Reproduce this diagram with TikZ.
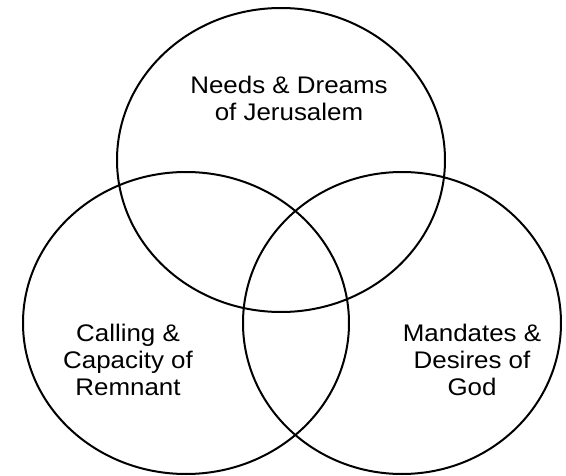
\documentclass[tikz,border=0pt]{standalone}
\usepackage{fontspec}
\setmainfont[FakeStretch=1.08]{Liberation Sans}
\begin{document}
\begin{tikzpicture}[x=1pt,y=-1pt,
  venn/.style={draw=black,line width=2pt},
  lbl/.style={align=center,font=\fontsize{24}{27}\selectfont,inner sep=0pt}]
\useasboundingbox (0,0) rectangle (566,476);
\draw[venn] (281,160) ellipse [x radius=164, y radius=152];
\draw[venn] (186,323) ellipse [x radius=163, y radius=151];
\draw[venn] (402,323) ellipse [x radius=159, y radius=151];
\node[lbl] (top) at (289,98.5) {Needs \& Dreams\\of Jerusalem};
\node[lbl] (left) at (128,360) {Calling \&\\Capacity of\\Remnant};
\node[lbl] (right) at (472,360) {Mandates \&\\Desires of\\God};
\end{tikzpicture}
\end{document}
